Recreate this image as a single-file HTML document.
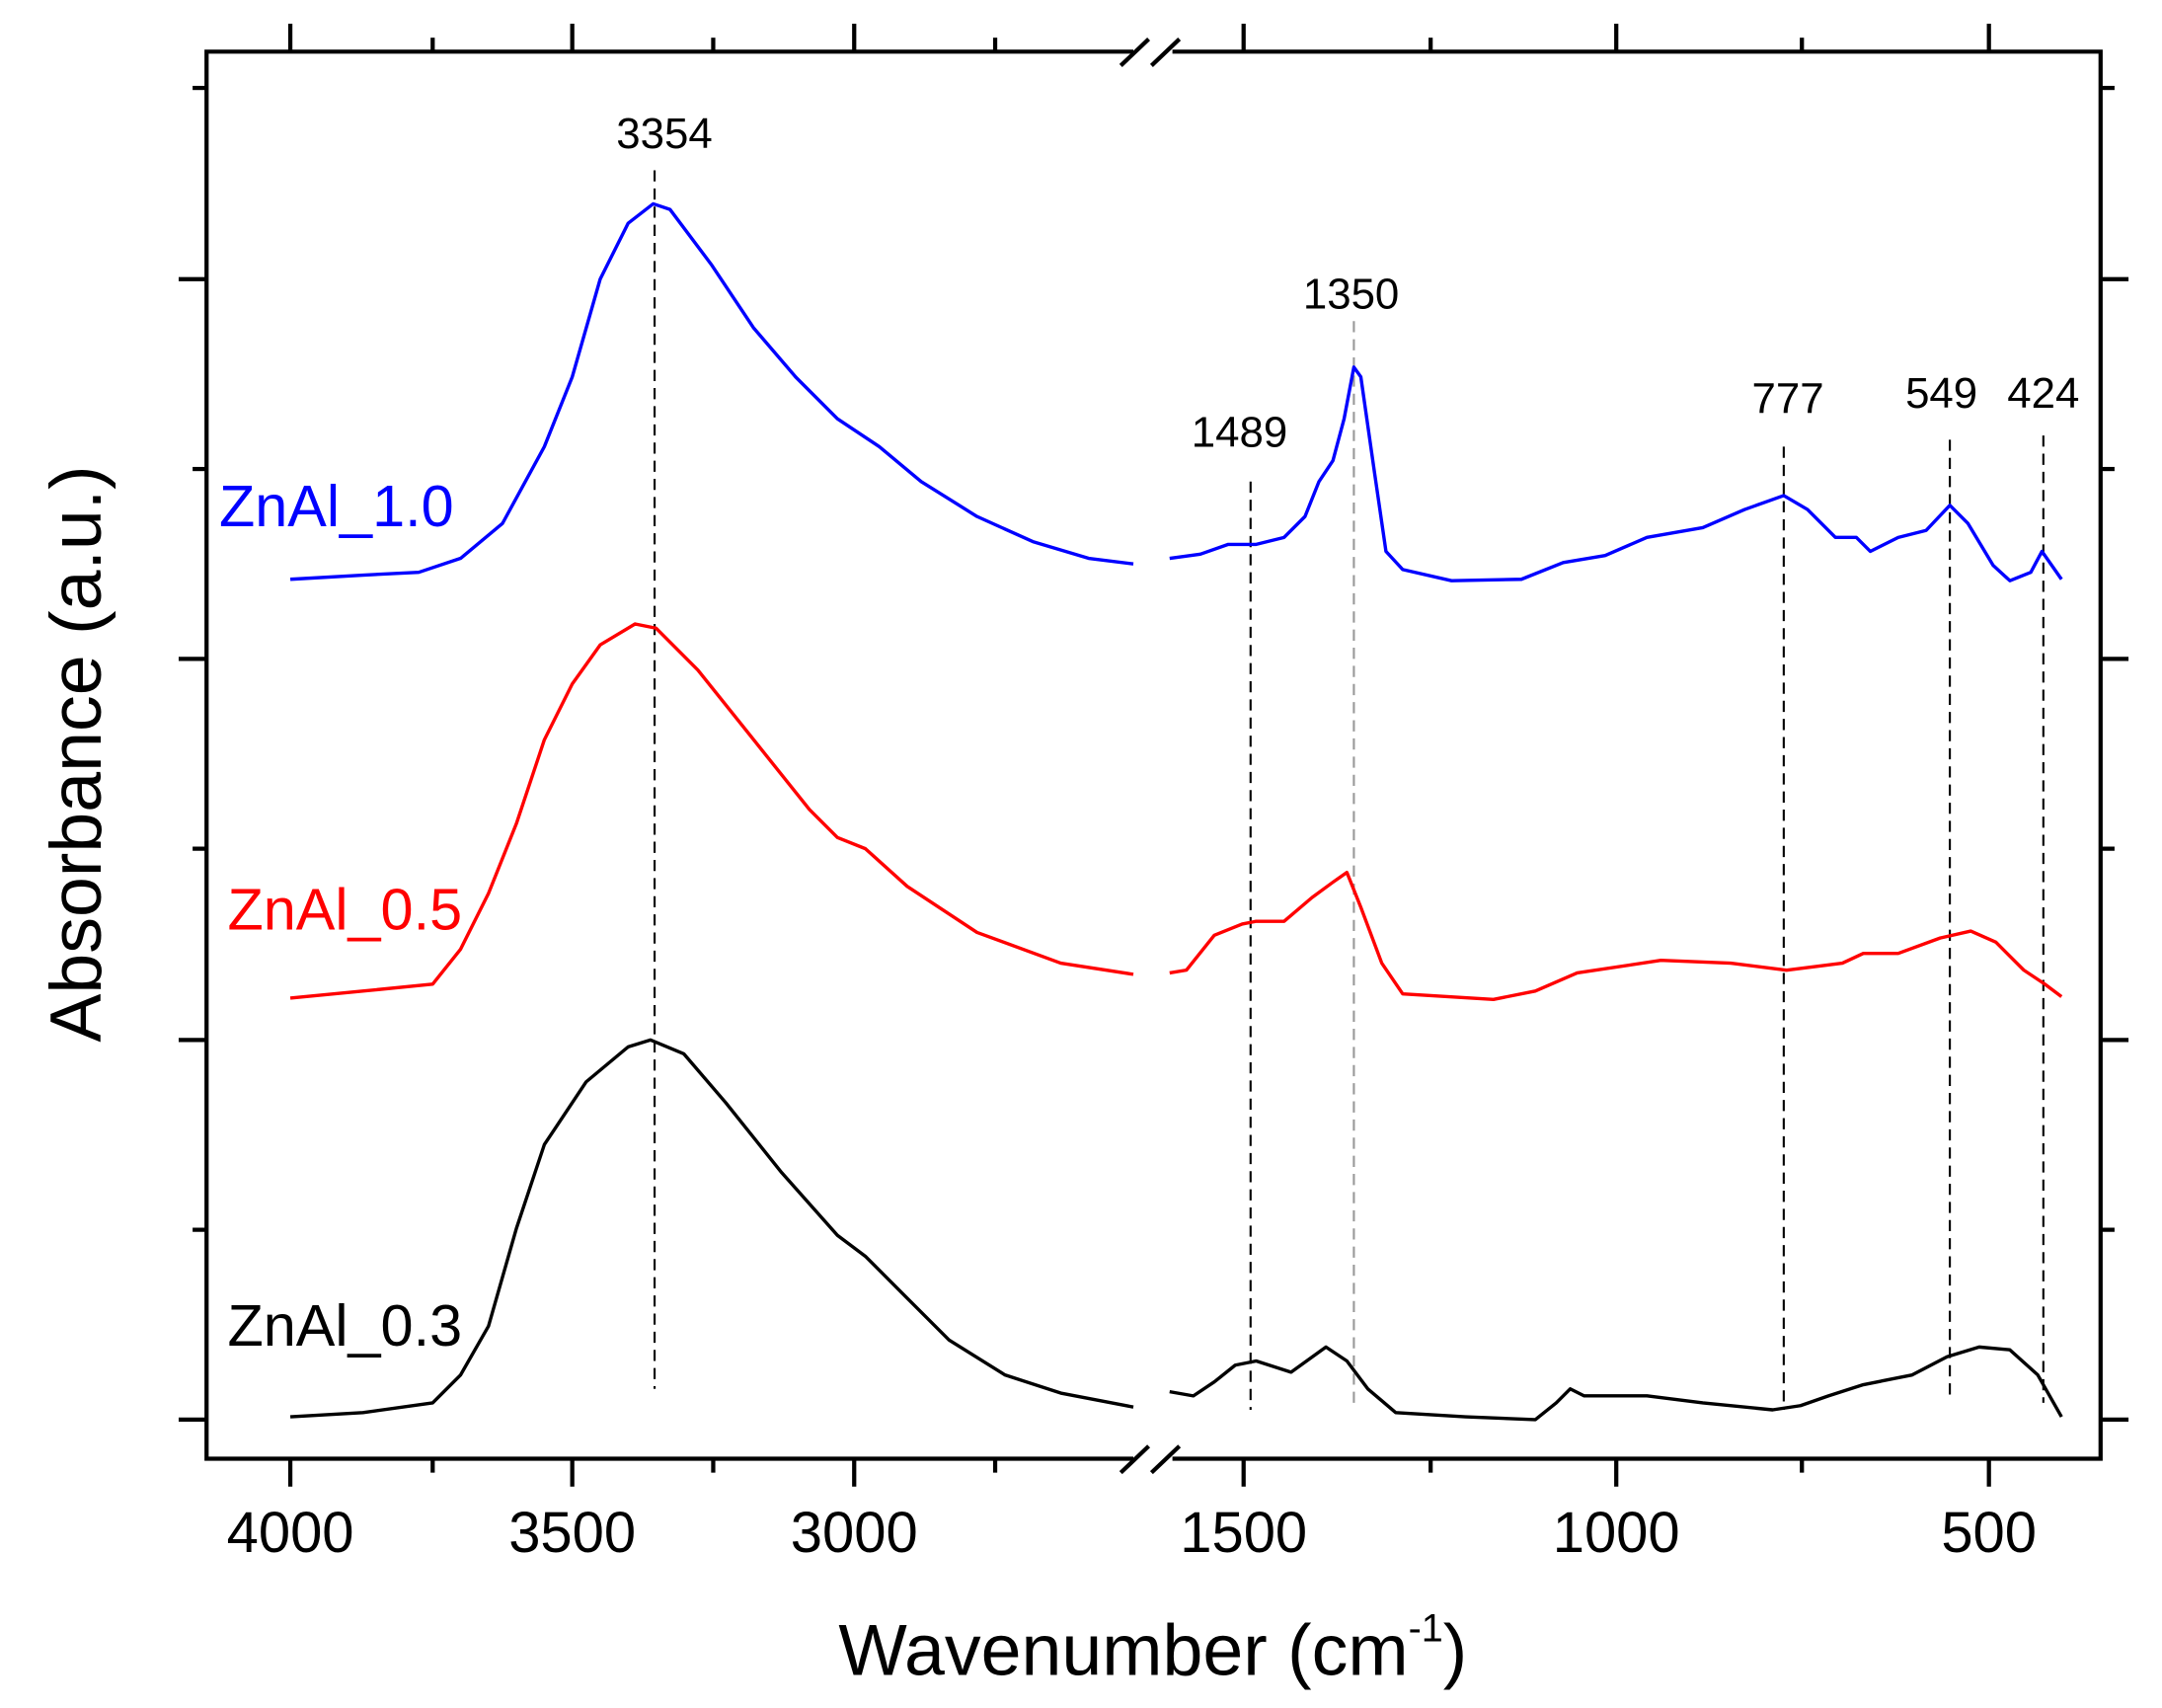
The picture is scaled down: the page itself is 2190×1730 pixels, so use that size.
<!DOCTYPE html>
<html><head><style>html,body{margin:0;padding:0;background:#fff}svg{display:block}</style></head>
<body>
<svg width="2190" height="1730" viewBox="0 0 1549 1223.6" preserveAspectRatio="none" xmlns="http://www.w3.org/2000/svg" font-family="Liberation Sans, Arial, sans-serif">
<rect x="0" y="0" width="1549" height="1224" fill="#fff"/>
<g stroke="#000" stroke-width="3" fill="none">
<path d="M812,37 H148 V1045 H812"/>
<path d="M840,37 H1505 V1045 H840"/>
</g>
<g stroke="#000" stroke-width="3">
<line x1="803" y1="47" x2="823" y2="28"/><line x1="825" y1="47" x2="845" y2="28"/>
<line x1="803" y1="1055" x2="823" y2="1036"/><line x1="825" y1="1055" x2="845" y2="1036"/>
</g>
<g stroke="#000" stroke-width="3">
<line x1="208" y1="17" x2="208" y2="37"/><line x1="310" y1="27" x2="310" y2="37"/><line x1="410" y1="17" x2="410" y2="37"/><line x1="511" y1="27" x2="511" y2="37"/><line x1="612" y1="17" x2="612" y2="37"/><line x1="713" y1="27" x2="713" y2="37"/>
<line x1="891" y1="17" x2="891" y2="37"/><line x1="1025" y1="27" x2="1025" y2="37"/><line x1="1158" y1="17" x2="1158" y2="37"/><line x1="1291" y1="27" x2="1291" y2="37"/><line x1="1425" y1="17" x2="1425" y2="37"/>
<line x1="208" y1="1045" x2="208" y2="1065"/><line x1="310" y1="1045" x2="310" y2="1055"/><line x1="410" y1="1045" x2="410" y2="1065"/><line x1="511" y1="1045" x2="511" y2="1055"/><line x1="612" y1="1045" x2="612" y2="1065"/><line x1="713" y1="1045" x2="713" y2="1055"/>
<line x1="891" y1="1045" x2="891" y2="1065"/><line x1="1025" y1="1045" x2="1025" y2="1055"/><line x1="1158" y1="1045" x2="1158" y2="1065"/><line x1="1291" y1="1045" x2="1291" y2="1055"/><line x1="1425" y1="1045" x2="1425" y2="1065"/>
<line x1="138" y1="63" x2="148" y2="63"/><line x1="128" y1="200" x2="148" y2="200"/><line x1="138" y1="336" x2="148" y2="336"/><line x1="128" y1="472" x2="148" y2="472"/><line x1="138" y1="608" x2="148" y2="608"/><line x1="128" y1="745" x2="148" y2="745"/><line x1="138" y1="881" x2="148" y2="881"/><line x1="128" y1="1017" x2="148" y2="1017"/>
<line x1="1505" y1="63" x2="1515" y2="63"/><line x1="1505" y1="200" x2="1525" y2="200"/><line x1="1505" y1="336" x2="1515" y2="336"/><line x1="1505" y1="472" x2="1525" y2="472"/><line x1="1505" y1="608" x2="1515" y2="608"/><line x1="1505" y1="745" x2="1525" y2="745"/><line x1="1505" y1="881" x2="1515" y2="881"/><line x1="1505" y1="1017" x2="1525" y2="1017"/>
</g>
<g stroke-width="1.5" stroke-dasharray="8,5" fill="none">
<line x1="469" y1="122" x2="469" y2="995" stroke="#000"/>
<line x1="896" y1="345" x2="896" y2="1010" stroke="#000"/>
<line x1="970" y1="230" x2="970" y2="1010" stroke="#999"/>
<line x1="1278" y1="320" x2="1278" y2="1010" stroke="#000"/>
<line x1="1397" y1="315" x2="1397" y2="1000" stroke="#000"/>
<line x1="1464" y1="312" x2="1464" y2="1005" stroke="#000"/>
</g>
<g fill="none" stroke-width="2.4" stroke-linejoin="round">
<polyline stroke="#0000ff" points="208,415 260,412 300,410 330,400 360,375 390,320 410,270 430,200 450,160 468,146 480,150 510,190 540,235 570,270 600,300 615,310 630,320 660,345 700,370 740,388 780,400 812,404"/>
<polyline stroke="#0000ff" points="838,400 860,397 880,390 900,390 920,385 935,370 945,345 955,330 963,300 970,263 975,270 985,340 993,395 1005,408 1040,416 1090,415 1120,403 1150,398 1180,385 1220,378 1250,365 1278,355 1295,365 1315,385 1330,385 1340,395 1360,385 1380,380 1397,362 1410,375 1428,405 1440,416 1455,410 1463,395 1470,405 1477,415"/>
<polyline stroke="#ff0000" points="208,715 260,710 310,705 330,680 350,640 370,590 390,530 410,490 430,462 455,447 470,450 500,480 540,530 580,580 600,600 620,608 650,635 700,668 760,690 812,698"/>
<polyline stroke="#ff0000" points="838,697 850,695 870,670 890,662 900,660 920,660 940,643 955,632 965,625 975,650 990,690 1005,712 1070,716 1100,710 1130,697 1190,688 1240,690 1280,695 1320,690 1335,683 1360,683 1390,672 1412,667 1430,675 1450,695 1465,705 1477,714"/>
<polyline stroke="#000" points="208,1015 260,1012 310,1005 330,985 350,950 370,880 390,820 420,775 450,750 466,745 490,755 520,790 560,840 600,885 620,900 650,930 680,960 720,985 760,998 812,1008"/>
<polyline stroke="#000" points="838,997 855,1000 870,990 885,978 900,975 925,983 950,965 965,975 980,995 1000,1012 1050,1015 1100,1017 1115,1005 1125,995 1135,1000 1180,1000 1220,1005 1270,1010 1290,1007 1310,1000 1335,992 1370,985 1395,972 1418,965 1440,967 1460,985 1477,1015"/>
</g>
<g font-size="31" fill="#000" text-anchor="middle">
<text x="476" y="106">3354</text>
<text x="968" y="221">1350</text>
<text x="888" y="320">1489</text>
<text x="1281" y="296">777</text>
<text x="1391" y="292">549</text>
<text x="1464" y="292">424</text>
</g>
<g font-size="42">
<text x="157" y="377" fill="#0000ff">ZnAl_1.0</text>
<text x="163" y="666" fill="#ff0000">ZnAl_0.5</text>
<text x="163" y="964" fill="#000">ZnAl_0.3</text>
</g>
<g font-size="41" fill="#000" text-anchor="middle">
<text x="208" y="1112">4000</text><text x="410" y="1112">3500</text><text x="612" y="1112">3000</text>
<text x="891" y="1112">1500</text><text x="1158" y="1112">1000</text><text x="1425" y="1112">500</text>
</g>
<text x="826" y="1200" font-size="52" text-anchor="middle">Wavenumber (cm<tspan font-size="28" dy="-24">-1</tspan><tspan dy="24">)</tspan></text>
<text transform="translate(72,540) rotate(-90)" font-size="52" text-anchor="middle">Absorbance (a.u.)</text>
</svg>
</body></html>
